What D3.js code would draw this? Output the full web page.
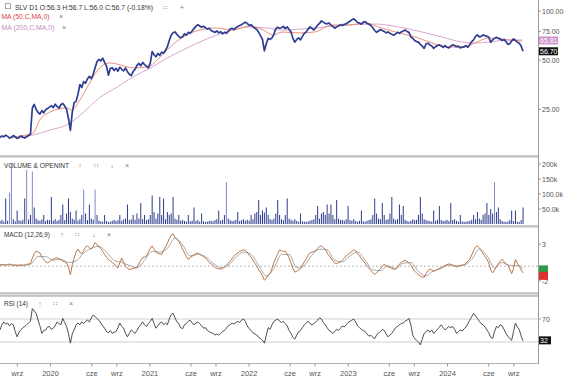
<!DOCTYPE html>
<html lang="pl">
<head>
<meta charset="utf-8">
<title>SLV D1</title>
<style>
  body { margin: 0; background: #fff; }
  svg { display: block; font-family: "Liberation Sans", Arial, sans-serif; }
  .lbl { font-size: 7px; fill: #333; }
  .axl { font-size: 7px; fill: #555; }
</style>
</head>
<body>
<script src="https://cdn.jsdelivr.net/npm/d3@7"></script>
<script>
// weekly closes
var price2019 = [16.8,17.2,17.0,17.4,17.1,16.7,16.9,17.3,17.0,16.6,16.8,17.2,16.9,16.7,17.0,17.3,17.6,25.5,26.8,25.0,24.0,23.4,24.6,23.8,24.9,25.3];
var price2020 = [25.8,26.4,25.6,26.9,26.1,25.4,26.7,27.2,26.3,25.0,22.0,18.6,24.0,27.5,28.0,31.0,35.5,34.0,37.0,36.2,38.5,39.8,38.6,41.0,45.0,49.0,50.5,49.5,51.5,48.5,46.0,40.5,44.5,45.0,43.2,44.6,42.8,45.3,44.0,43.0,44.8,42.5,41.0,40.2,42.6,44.0,46.5,47.8,46.2,48.5,47.0,46.0];
var price2021 = [44.8,48.0,56.5,54.0,52.5,55.0,53.5,56.0,55.2,57.5,60.5,66.0,71.0,73.5,74.5,72.0,70.0,68.5,69.5,72.5,71.0,74.0,73.0,75.5,78.0,80.5,82.5,81.0,79.5,80.8,79.0,77.5,78.5,76.0,75.0,74.0,75.5,73.5,74.8,72.5,74.0,73.0,75.0,77.5,78.5,77.0,79.0,80.5,81.5,82.5,84.0,85.5];
var price2022 = [84.0,81.5,82.5,80.0,78.5,77.0,74.0,70.5,67.0,57.0,63.0,68.0,67.0,68.5,72.0,78.0,79.5,78.5,79.0,80.5,78.0,80.0,77.0,74.5,68.0,64.5,67.0,68.5,66.5,70.0,73.0,74.5,77.5,80.0,78.5,76.5,79.0,82.0,84.0,87.0,85.5,84.0,83.5,84.5,82.0,80.5,78.5,80.0,81.0,82.5,81.5,83.0];
var price2023 = [83.5,85.0,86.5,88.5,89.5,87.5,85.0,84.5,83.0,85.5,86.0,84.0,83.0,81.5,79.0,76.0,74.0,75.5,77.0,76.0,75.0,73.5,74.5,73.0,72.0,71.0,72.5,74.0,73.0,74.5,75.5,76.5,75.0,74.0,69.5,68.0,66.0,65.0,64.5,62.5,61.0,59.0,63.0,63.5,62.0,61.0,59.0,60.5,61.5,62.0,61.0,60.0];
var price2024 = [61.5,60.0,59.5,61.0,62.0,61.5,60.5,61.0,59.5,60.0,60.5,61.5,60.0,62.5,65.0,66.5,70.0,71.5,69.5,70.0,71.5,70.5,70.0,69.0,64.5,66.5,68.0,69.0,68.0,67.5,66.0,67.0,65.0,62.5,63.0,65.5,67.5,66.0,64.5,63.5,61.0,56.7];

// weekly volume, thousands
var vol2019 = [10,14,8,85,11,105,200,16,9,45,13,10,14,85,180,15,30,175,55,18,13,11,15,30,10,14];
var vol2020 = [13,90,11,16,10,14,30,65,13,35,85,40,18,14,45,11,16,30,115,35,13,65,18,14,115,30,11,9,8,30,10,7,8,11,14,10,13,30,11,15,18,65,13,16,30,14,35,18,70,16,30,13];
var vol2021 = [16,30,95,40,18,35,90,30,85,16,40,30,35,90,18,14,30,11,13,10,8,30,9,11,55,10,13,8,35,9,7,8,10,11,9,13,16,45,11,14,30,140,18,13,10,11,14,40,10,13,16,11];
var vol2022 = [14,11,30,16,35,40,80,30,45,38,55,30,16,13,18,35,80,30,16,13,30,85,18,14,11,16,10,8,35,9,8,7,9,11,13,16,30,60,18,35,40,30,65,35,65,30,16,80,18,13,14,11];
var vol2023 = [16,60,13,11,16,10,8,11,45,9,8,11,13,16,30,85,35,18,16,70,30,14,16,35,90,18,13,16,65,30,60,14,10,8,11,16,13,14,30,90,35,16,13,11,10,8,45,11,14,60,13,10];
var vol2024 = [11,14,10,70,13,16,11,8,30,9,7,8,9,11,14,30,16,40,18,14,30,35,70,30,50,35,140,40,55,16,10,8,7,8,13,45,10,45,8,7,13,55];

// MACD (12,26,9) line, weekly
var macd2019 = [0.2,0.15,0.25,0.1,0.2,0.3,0.2,0.1,0.15,0.05,0.1,0.2,0.1,0.15,0.25,0.3,0.35,1.1,1.7,2.05,1.9,1.8,1.25,0.9,0.6,0.45];
var macd2020 = [0.6,0.85,0.95,1.05,1.15,1.0,0.85,0.7,0.6,0.45,-0.2,-1.15,0.2,1.1,1.9,2.3,1.9,1.65,2.1,2.6,2.75,2.5,2.3,2.7,3.2,2.9,2.6,2.4,2.0,1.6,1.2,0.9,0.7,0.5,0.3,0.0,-0.25,0.5,1.1,0.5,0.0,-0.3,-0.45,-0.4,-0.3,-0.25,-0.2,0.3,0.8,1.15,1.25,1.35];
var macd2021 = [1.9,2.4,2.75,2.3,1.9,1.75,1.65,1.6,2.1,2.6,3.1,3.7,4.2,4.35,3.9,3.6,3.4,2.9,2.3,1.8,1.3,0.9,1.2,1.35,1.5,1.7,1.8,1.6,1.45,1.3,1.15,0.8,0.5,0.3,0.1,-0.15,-0.3,-0.35,-0.4,-0.3,-0.15,0.1,0.4,0.7,1.0,1.35,1.6,1.8,2.0,2.1,2.2,2.15];
var macd2022 = [1.9,1.5,1.2,0.8,0.4,0.0,-0.5,-0.8,-1.3,-1.9,-1.6,-1.2,-1.0,-0.3,0.5,1.1,1.7,2.2,2.1,2.0,2.05,1.6,1.1,0.4,-0.3,-0.8,-0.7,-0.5,-0.35,0.1,0.6,1.0,1.5,1.8,1.9,2.0,2.1,2.4,2.7,2.75,2.5,2.3,1.8,1.4,1.1,0.7,0.45,0.35,0.5,0.55,0.8,1.1];
var macd2023 = [1.4,1.6,1.8,2.0,2.2,2.1,1.7,1.4,1.0,0.7,0.4,0.0,-0.3,-0.6,-0.9,-1.1,-0.9,-0.6,-0.35,0.0,0.25,0.1,-0.1,-0.15,-0.3,-0.4,-0.4,-0.1,0.3,0.5,0.7,0.8,0.6,0.45,0.2,-0.3,-0.65,-0.9,-1.15,-1.35,-1.45,-1.5,-1.0,-0.6,-0.4,-0.5,-0.7,-0.6,-0.45,-0.3,-0.2,-0.05];
var macd2024 = [0.1,0.2,0.3,0.25,0.15,0.0,-0.1,-0.05,0.1,0.15,0.2,0.4,0.7,0.95,1.5,2.1,2.6,2.75,2.5,2.1,1.7,1.3,0.95,0.4,-0.5,-0.9,-0.5,-0.1,0.3,0.7,0.95,0.6,0.3,0.2,-0.4,-1.0,-0.3,0.9,0.4,0.0,-0.5,-0.9];
// signal line, read every 4th week (last one at the final week)
var signalVals = [0.2,0.18,0.17,0.13,0.25,1.3,1.3,0.8,0.95,0.5,0.7,1.8,2.4,2.7,1.9,0.8,0.5,0.1,-0.2,0.8,2.0,1.9,2.4,3.8,2.9,1.4,1.6,1.3,0.4,-0.2,0.1,1.2,1.9,1.6,0.1,-1.3,-0.3,1.6,1.6,-0.2,0.1,1.5,2.3,2.2,0.8,0.6,1.4,1.9,0.8,-0.5,-0.6,0.05,-0.3,0.4,0.5,-0.7,-1.3,-0.6,-0.3,0.15,0.05,0.15,0.9,2.3,1.4,-0.2,0.5,0.1,0.1,-0.3];

// RSI (14), weekly
var rsi2019 = [51,60,65,61,63,58,62,60,48,39,47,51,55,57,60,63,66,88,84,80,68,58,45,50,51,56];
var rsi2020 = [57,52,54,58,65,62,60,71,64,57,45,28,44,51,60,63,60,65,62,66,68,65,72,77,74,71,68,63,58,54,48,46,50,45,47,48,55,63,57,54,45,39,45,51,48,45,50,56,60,65,60,57];
var rsi2021 = [62,66,71,62,54,58,63,65,60,63,60,70,78,80,72,65,62,55,53,60,62,66,68,63,60,63,65,62,58,54,55,50,48,46,45,42,44,42,45,48,50,54,58,60,63,61,64,66,64,68,70,66];
var rsi2022 = [58,53,50,46,44,42,38,36,33,28,42,55,52,60,66,68,70,66,64,66,62,58,50,45,38,35,42,48,50,55,60,63,66,62,60,62,65,68,72,70,64,60,55,50,48,45,48,52,50,54,58,56];
var rsi2023 = [60,64,66,68,70,65,58,55,52,50,48,44,40,42,38,36,42,46,48,52,50,44,39,42,45,50,55,57,60,62,63,66,68,71,60,42,36,33,30,25,35,45,48,51,47,51,45,48,52,56,60,55];
var rsi2024 = [51,54,57,55,57,52,45,48,51,49,53,56,62,68,74,80,76,71,66,62,60,56,51,46,38,36,48,57,55,60,58,52,45,40,36,33,48,63,56,52,40,32];

// moving averages, read at sparse dates
var ma50Dates = ["2019-08-07","2019-10-30","2019-11-24","2020-01-01","2020-03-03","2020-03-20","2020-04-20","2020-05-26","2020-07-01","2020-08-07","2020-09-16","2020-11-02","2020-12-24","2021-02-10","2021-03-18","2021-05-05","2021-07-05","2021-09-06","2021-11-03","2022-01-04","2022-02-24","2022-04-01","2022-05-05","2022-07-06","2022-09-01","2022-11-02","2023-01-04","2023-03-04","2023-05-05","2023-07-08","2023-09-06","2023-11-06","2024-01-08","2024-03-07","2024-04-12","2024-06-03","2024-08-15","2024-10-04"];
var ma50Vals = [16.9,17.9,21.5,24.1,25.5,24.8,28.5,36.3,44.8,48.1,46.8,44.8,45.5,52.3,60.2,69.4,76.5,78.7,76.5,81.0,76.5,71.3,74.4,73.4,74.4,82.1,82.1,84.5,78.7,73.4,69.4,63.7,60.2,60.2,63.7,68.4,66.5,65.5];
var ma200Dates = ["2019-08-07","2019-10-30","2020-01-01","2020-03-03","2020-05-01","2020-07-01","2020-09-05","2020-11-02","2021-01-04","2021-03-08","2021-05-05","2021-07-05","2021-09-06","2021-11-03","2022-01-04","2022-03-10","2022-05-05","2022-09-01","2023-01-04","2023-04-08","2023-07-08","2023-10-01","2023-12-13","2024-02-24","2024-04-12","2024-06-03","2024-08-15","2024-10-04"];
var ma200Vals = [16.7,17.4,18.7,20.1,23.8,29.4,34.3,39.5,44.8,51.6,57.8,64.6,71.3,76.5,79.8,78.7,76.5,78.7,82.1,83.3,79.8,74.4,69.4,64.6,63.7,64.6,66.5,66.5];

// axis ticks
var tickDates = ["2019-09-01","2020-01-01","2020-06-01","2020-09-01","2021-01-01","2021-06-01","2021-09-01","2022-01-01","2022-06-01","2022-09-01","2023-01-01","2023-06-01","2023-09-01","2024-01-01","2024-06-01","2024-09-01"];
var tickLabels = ["wrz","2020","cze","wrz","2021","cze","wrz","2022","cze","wrz","2023","cze","wrz","2024","cze","wrz"];
var priceTicks = [25, 50, 75, 100];
var volTicks = [50, 100, 150, 200];
var volTickLabels = ["50.0k", "100.0k", "150k", "200k"];

var w = 564, h = 379;
var plotR = 538;
var parseDate = d3.timeParse("%Y-%m-%d");

var price = [].concat(price2019, price2020, price2021, price2022, price2023, price2024);
var vol = [].concat(vol2019, vol2020, vol2021, vol2022, vol2023, vol2024);
var macd = [].concat(macd2019, macd2020, macd2021, macd2022, macd2023, macd2024);
var rsi = [].concat(rsi2019, rsi2020, rsi2021, rsi2022, rsi2023, rsi2024);
var start = parseDate("2019-07-01");
var weeks = price.map(function(d, i) { return d3.timeDay.offset(start, 7 * i); });
var sigIdx = signalVals.map(function(d, k) { return k < signalVals.length - 1 ? k * 4 : weeks.length - 1; });

var x = d3.scaleTime().domain([start, parseDate("2024-12-01")]).range([0, plotR]);
var yP = d3.scaleLog().domain([25, 100]).range([109.4, 11]);
var yV = d3.scaleLinear().domain([0, 200]).range([224, 164]);
var yM = d3.scaleLinear().domain([-2, 3]).range([281, 244]);
var yR = d3.scaleLinear().domain([30, 70]).range([342, 319]);

var svg = d3.select("body").append("svg").attr("width", w).attr("height", h);

// clip paths per panel
var defs = svg.append("defs");
[["cMain", 0, 155], ["cVol", 158, 225], ["cMacd", 228, 292], ["cRsi", 297, 363]].forEach(function(c) {
  defs.append("clipPath").attr("id", c[0]).append("rect")
    .attr("x", 0).attr("y", c[1]).attr("width", plotR).attr("height", c[2] - c[1]);
});

// separators
[155.5, 225.5, 292.5].forEach(function(yy, i) {
  svg.append("rect").attr("x", 0).attr("y", yy).attr("width", plotR).attr("height", i == 2 ? 4 : 2.5).attr("fill", "#dcdcdc");
  svg.append("line").attr("x1", 0).attr("x2", plotR).attr("y1", yy + 0.5).attr("y2", yy + 0.5).attr("stroke", "#a9a9a9").attr("stroke-width", 1);
  if (i == 2) svg.append("line").attr("x1", 0).attr("x2", plotR).attr("y1", yy + 3.5).attr("y2", yy + 3.5).attr("stroke", "#a9a9a9").attr("stroke-width", 1);
});

// ---- main panel
var gMain = svg.append("g").attr("clip-path", "url(#cMain)");
var smooth = d3.line().curve(d3.curveMonotoneX);
gMain.append("path")
  .attr("d", smooth(ma200Dates.map(function(d, i) { return [x(parseDate(d)), yP(ma200Vals[i])]; })))
  .attr("fill", "none").attr("stroke", "#dba6cf").attr("stroke-width", 1);
gMain.append("path")
  .attr("d", smooth(ma50Dates.map(function(d, i) { return [x(parseDate(d)), yP(ma50Vals[i])]; })))
  .attr("fill", "none").attr("stroke", "#e8826a").attr("stroke-width", 0.9);
var priceLine = d3.line().x(function(d, i) { return x(weeks[i]); }).y(function(d) { return yP(d); });
gMain.append("path").datum(price).attr("d", priceLine)
  .attr("fill", "none").attr("stroke", "#2e3d92").attr("stroke-width", 1.7).attr("stroke-linejoin", "round");

// ---- volume
svg.append("g").attr("clip-path", "url(#cVol)").selectAll("rect")
  .data(vol).enter().append("rect")
  .attr("x", function(d, i) { return x(weeks[i]) - 0.5; })
  .attr("width", 1)
  .attr("y", function(d) { return yV(d); })
  .attr("height", function(d) { return 224 - yV(d); })
  .attr("fill", function(d) { return d > 100 ? "#7e88cc" : "#2d3c8f"; });

// ---- MACD
var gM = svg.append("g").attr("clip-path", "url(#cMacd)");
gM.append("line").attr("x1", 0).attr("x2", plotR).attr("y1", yM(0)).attr("y2", yM(0))
  .attr("stroke", "#b8b8b8").attr("stroke-dasharray", "2,2");
gM.append("path")
  .attr("d", smooth(signalVals.map(function(d, k) { return [x(weeks[sigIdx[k]]), yM(d)]; })))
  .attr("fill", "none").attr("stroke", "#a8a8a8").attr("stroke-width", 1);
gM.append("path").datum(macd)
  .attr("d", d3.line().x(function(d, i) { return x(weeks[i]); }).y(function(d) { return yM(d); }))
  .attr("fill", "none").attr("stroke", "#b9774a").attr("stroke-width", 1);

// ---- RSI
var gR = svg.append("g").attr("clip-path", "url(#cRsi)");
[30, 70].forEach(function(v) {
  gR.append("line").attr("x1", 0).attr("x2", plotR).attr("y1", yR(v)).attr("y2", yR(v)).attr("stroke", "#cfcfcf");
});
gR.append("path").datum(rsi)
  .attr("d", d3.line().x(function(d, i) { return x(weeks[i]); }).y(function(d) { return yR(d); }))
  .attr("fill", "none").attr("stroke", "#3a3a3a").attr("stroke-width", 0.9);

// ---- right axis line
svg.append("line").attr("x1", plotR + 0.5).attr("x2", plotR + 0.5).attr("y1", 0).attr("y2", 364)
  .attr("stroke", "#9a9a9a");

function rightLabel(yy, txt) {
  svg.append("line").attr("x1", plotR + 1).attr("x2", plotR + 3).attr("y1", yy).attr("y2", yy).attr("stroke", "#999");
  svg.append("text").attr("class", "axl").attr("x", plotR + 4).attr("y", yy + 2.5).text(txt);
}
priceTicks.forEach(function(v) { rightLabel(yP(v), d3.format(".2f")(v)); });
volTicks.forEach(function(v, i) { rightLabel(yV(v), volTickLabels[i]); });
rightLabel(yM(3), "3");
rightLabel(yM(-2), "-2");
rightLabel(yR(70), "70");

function box(yy, txt, fill, wd) {
  svg.append("rect").attr("x", plotR + 1).attr("y", yy - 4).attr("width", wd).attr("height", 8).attr("fill", fill);
  svg.append("text").attr("class", "axl").attr("x", plotR + 2).attr("y", yy + 2.5).style("fill", "#fff").text(txt);
}
box(yP(ma200Vals[ma200Vals.length - 1]) + 0.5, "65.81", "#d193cd", 19);
box(yP(price[price.length - 1]), d3.format(".2f")(price[price.length - 1]), "#111", 19);
box(yM(-0.3) + 1, "", "#2e9a45", 9);
box(yM(-0.9) + 3, "", "#e0312f", 9);
box(yR(rsi[rsi.length - 1]) - 0.5, String(rsi[rsi.length - 1]), "#111", 12);

// ---- bottom axis
var xAxis = d3.axisBottom(x)
  .tickValues(tickDates.map(parseDate))
  .tickFormat(function(d, i) { return tickLabels[i]; })
  .tickSize(3).tickSizeOuter(0);
var gx = svg.append("g").attr("transform", "translate(0,363.5)").call(xAxis);
gx.select(".domain").attr("stroke", "#b0b0b0").attr("d", "M0,0H" + plotR);
gx.selectAll(".tick line").attr("stroke", "#999");
gx.selectAll(".tick text").attr("dy", "0.9em")
  .style("font-family", "Liberation Sans, Arial, sans-serif").style("font-size", "7.5px").style("fill", "#555");

// ---- legends
function txt(xx, yy, s, col, len) {
  var t = svg.append("text").attr("class", "lbl").attr("x", xx).attr("y", yy).text(s);
  if (col) t.style("fill", col);
  if (len) t.attr("textLength", len).attr("lengthAdjust", "spacingAndGlyphs");
  return t;
}
svg.append("rect").attr("x", 5.5).attr("y", 3.5).attr("width", 5).attr("height", 5).attr("fill", "none").attr("stroke", "#aaa");
txt(15, 9.5, "SLV D1 O:56.3 H:56.7 L:56.0 C:56.7 (-0.18%)", null, 138);
txt(163, 9.5, "\u2237", "#777");
txt(180, 10, "+", "#777");
txt(1.5, 19, "MA (50,C,MA,0)", "#e0414d", 48);
txt(59, 19, "\u00d7", "#777");
txt(1.5, 30, "MA (200,C,MA,0)", "#c98cc4", 53);
txt(62, 30, "\u00d7", "#777");

function panelLabel(yy, s, len, icons) {
  txt(4, yy, s, null, len);
  icons.forEach(function(ic) {
    txt(ic[0], yy, ic[1], "#777").attr("text-anchor", "middle");
  });
}
panelLabel(168, "VOLUME & OPENINT", 65, [[80, "\u2191"], [96, "\u2237"], [112, "\u2193"], [127, "\u00d7"]]);
panelLabel(237, "MACD (12,26,9)", 46, [[62, "\u2191"], [77, "\u2237"], [94, "\u2193"], [109, "\u00d7"]]);
panelLabel(305.5, "RSI (14)", 24, [[40, "\u2191"], [55, "\u2237"], [71, "\u00d7"]]);
</script>
</body>
</html>
